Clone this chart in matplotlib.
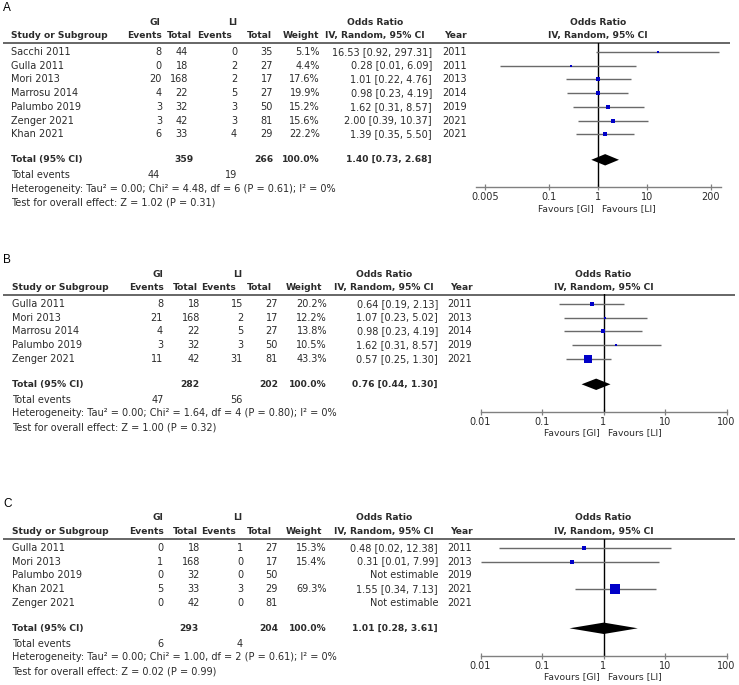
import matplotlib
matplotlib.use('Agg')
import matplotlib.pyplot as plt
import numpy as np

W, H = 739, 685
TXT = '#2b2b2b'

# ---------------- Panel A data ----------------
a_study = ['Sacchi 2011', 'Gulla 2011', 'Mori 2013', 'Marrosu 2014', 'Palumbo 2019', 'Zenger 2021', 'Khan 2021']
a_gi_events = [8, 0, 20, 4, 3, 3, 6]
a_gi_total = [44, 18, 168, 22, 32, 42, 33]
a_li_events = [0, 2, 2, 5, 3, 3, 4]
a_li_total = [35, 27, 17, 27, 50, 81, 29]
a_weight = [5.1, 4.4, 17.6, 19.9, 15.2, 15.6, 22.2]
a_or = [16.53, 0.28, 1.01, 0.98, 1.62, 2.00, 1.39]
a_lo = [0.92, 0.01, 0.22, 0.23, 0.31, 0.39, 0.35]
a_hi = [297.31, 6.09, 4.76, 4.19, 8.57, 10.37, 5.50]
a_year = [2011, 2011, 2013, 2014, 2019, 2021, 2021]
a_totals = [359, 266]
a_events = [44, 19]
a_pooled = [1.40, 0.73, 2.68]
a_het = 'Heterogeneity: Tau² = 0.00; Chi² = 4.48, df = 6 (P = 0.61); I² = 0%'
a_test = 'Test for overall effect: Z = 1.02 (P = 0.31)'
a_ticks = [0.005, 0.1, 1, 10, 200]

# ---------------- Panel B data ----------------
b_study = ['Gulla 2011', 'Mori 2013', 'Marrosu 2014', 'Palumbo 2019', 'Zenger 2021']
b_gi_events = [8, 21, 4, 3, 11]
b_gi_total = [18, 168, 22, 32, 42]
b_li_events = [15, 2, 5, 3, 31]
b_li_total = [27, 17, 27, 50, 81]
b_weight = [20.2, 12.2, 13.8, 10.5, 43.3]
b_or = [0.64, 1.07, 0.98, 1.62, 0.57]
b_lo = [0.19, 0.23, 0.23, 0.31, 0.25]
b_hi = [2.13, 5.02, 4.19, 8.57, 1.30]
b_year = [2011, 2013, 2014, 2019, 2021]
b_totals = [282, 202]
b_events = [47, 56]
b_pooled = [0.76, 0.44, 1.30]
b_het = 'Heterogeneity: Tau² = 0.00; Chi² = 1.64, df = 4 (P = 0.80); I² = 0%'
b_test = 'Test for overall effect: Z = 1.00 (P = 0.32)'
b_ticks = [0.01, 0.1, 1, 10, 100]

# ---------------- Panel C data ----------------
c_study = ['Gulla 2011', 'Mori 2013', 'Palumbo 2019', 'Khan 2021', 'Zenger 2021']
c_gi_events = [0, 1, 0, 5, 0]
c_gi_total = [18, 168, 32, 33, 42]
c_li_events = [1, 0, 0, 3, 0]
c_li_total = [27, 17, 50, 29, 81]
c_weight = [15.3, 15.4, np.nan, 69.3, np.nan]
c_or = [0.48, 0.31, np.nan, 1.55, np.nan]
c_lo = [0.02, 0.01, np.nan, 0.34, np.nan]
c_hi = [12.38, 7.99, np.nan, 7.13, np.nan]
c_year = [2011, 2013, 2019, 2021, 2021]
c_totals = [293, 204]
c_events = [6, 4]
c_pooled = [1.01, 0.28, 3.61]
c_het = 'Heterogeneity: Tau² = 0.00; Chi² = 1.00, df = 2 (P = 0.61); I² = 0%'
c_test = 'Test for overall effect: Z = 0.02 (P = 0.99)'
c_ticks = [0.01, 0.1, 1, 10, 100]

# column layout (pixels)
lay_a = dict(top=22, study=11, gi_lab=155, li_lab=233,
             h_center=[144.5, 179, 215, 259.5, 300.5], v_right=[162, 188, 237, 273, 320],
             tot_right=[194, 273, 320], ev_right=[160, 237],
             or_head=375, or_right=432, year_head=444, year=442, rule_end=730,
             cx=598, ppd=49, half=2.5)
lay_bc = dict(study=12, gi_lab=158, li_lab=238,
              h_center=[147, 185.5, 219, 259.5, 304], v_right=[163, 200, 243, 278, 327],
              tot_right=[199, 278, 327], ev_right=[164, 243],
              or_head=384, or_right=438, year_head=450, year=447, rule_end=735,
              cx=603.5, ppd=61.5, half=2.0)
lay_b = dict(lay_bc, top=274)
lay_c = dict(lay_bc, top=518)

FS = 7.0
FSB = 6.6


def draw_panel(fig, bg, label, lay, study, gi_ev, gi_tot, li_ev, li_tot, weight,
               orr, lo, hi, year, totals, events, pooled, het, test, ticks):
    top = lay['top']
    hdr2 = top + 13.7
    rule = top + 20.5
    step = 13.75
    rows = [top + 29.8 + i * step for i in range(len(study))]
    tot_y = rows[-1] + 25.5
    ev_y = tot_y + 15.3
    het_y = ev_y + 13.8
    test_y = het_y + 13.7
    axis_y = tot_y + 27.5

    t = dict(color=TXT, va='center', fontsize=FS)
    tb = dict(color=TXT, va='center', fontsize=FSB, fontweight='bold')

    bg.text(3, top - 14, label, fontsize=8.5, family='Liberation Sans', color='black', va='center')

    # headers
    bg.text(lay['gi_lab'], top, 'GI', ha='center', **tb)
    bg.text(lay['li_lab'], top, 'LI', ha='center', **tb)
    bg.text(lay['or_head'], top, 'Odds Ratio', ha='center', **tb)
    bg.text(lay['cx'], top, 'Odds Ratio', ha='center', **tb)
    bg.text(lay['study'], hdr2, 'Study or Subgroup', ha='left', **tb)
    for x, s in zip(lay['h_center'], ['Events', 'Total', 'Events', 'Total', 'Weight']):
        bg.text(x, hdr2, s, ha='center', **tb)
    bg.text(lay['or_head'], hdr2, 'IV, Random, 95% CI', ha='center', **tb)
    bg.text(lay['year_head'], hdr2, 'Year', ha='left', **tb)
    bg.text(lay['cx'], hdr2, 'IV, Random, 95% CI', ha='center', **tb)
    bg.plot([3, lay['rule_end']], [rule, rule], color='#666666', lw=1.4, solid_capstyle='butt')

    # study rows
    vr = lay['v_right']
    for i, y in enumerate(rows):
        bg.text(lay['study'], y, study[i], ha='left', **t)
        bg.text(vr[0], y, str(gi_ev[i]), ha='right', **t)
        bg.text(vr[1], y, str(gi_tot[i]), ha='right', **t)
        bg.text(vr[2], y, str(li_ev[i]), ha='right', **t)
        bg.text(vr[3], y, str(li_tot[i]), ha='right', **t)
        if np.isnan(orr[i]):
            or_txt = 'Not estimable'
        else:
            bg.text(vr[4], y, f'{weight[i]:.1f}%', ha='right', **t)
            or_txt = f'{orr[i]:.2f} [{lo[i]:.2f}, {hi[i]:.2f}]'
        bg.text(lay['or_right'], y, or_txt, ha='right', **t)
        bg.text(lay['year'], y, str(year[i]), ha='left', **t)

    # totals
    tr = lay['tot_right']
    bg.text(lay['study'], tot_y, 'Total (95% CI)', ha='left', **tb)
    bg.text(tr[0], tot_y, str(totals[0]), ha='right', **tb)
    bg.text(tr[1], tot_y, str(totals[1]), ha='right', **tb)
    bg.text(tr[2], tot_y, '100.0%', ha='right', **tb)
    bg.text(lay['or_right'], tot_y, f'{pooled[0]:.2f} [{pooled[1]:.2f}, {pooled[2]:.2f}]', ha='right', **tb)
    bg.text(lay['study'], ev_y, 'Total events', ha='left', **t)
    bg.text(lay['ev_right'][0], ev_y, str(events[0]), ha='right', **t)
    bg.text(lay['ev_right'][1], ev_y, str(events[1]), ha='right', **t)
    bg.text(lay['study'], het_y, het, ha='left', **t)
    bg.text(lay['study'], test_y, test, ha='left', **t)

    # forest plot axes
    x0 = lay['cx'] - lay['half'] * lay['ppd']
    x1 = lay['cx'] + lay['half'] * lay['ppd']
    ax = fig.add_axes([x0 / W, 1 - axis_y / H, (x1 - x0) / W, (axis_y - rule) / H])
    ax.set_xscale('log')
    ax.set_xlim(10 ** -lay['half'], 10 ** lay['half'])
    ax.set_ylim(axis_y, rule)
    ax.patch.set_alpha(0)
    for s in ['top', 'left', 'right']:
        ax.spines[s].set_visible(False)
    ax.spines['bottom'].set_color('#808080')
    ax.spines['bottom'].set_linewidth(1.0)
    ax.set_yticks([])
    ax.set_xticks(ticks)
    ax.set_xticklabels([f'{v:g}' for v in ticks])
    ax.minorticks_off()
    ax.tick_params(axis='x', direction='inout', length=5, width=0.9, color='#808080',
                   labelsize=7, labelcolor=TXT, pad=1.2)
    ax.axvline(1, color='black', lw=1.0)

    for i, y in enumerate(rows):
        if np.isnan(orr[i]):
            continue
        ax.plot([lo[i], hi[i]], [y, y], color='#6a6a6a', lw=1.0, solid_capstyle='butt')
        side = max(2.0, 0.45 * weight[i] ** 0.75)
        ax.plot([orr[i]], [y], marker='s', color='#0000c8', markersize=side * 0.72,
                markeredgewidth=0, linestyle='none')
    hd = 5.7
    ax.fill([pooled[1], pooled[0], pooled[2], pooled[0]],
            [tot_y, tot_y - hd, tot_y, tot_y + hd], color='black', lw=0)

    bg.text(lay['cx'] - 4, axis_y + 21, 'Favours [GI]', ha='right', va='center', fontsize=6.7, color=TXT)
    bg.text(lay['cx'] + 4, axis_y + 21, 'Favours [LI]', ha='left', va='center', fontsize=6.7, color=TXT)


fig = plt.figure(figsize=(W / 100, H / 100), dpi=100)
bg = fig.add_axes([0, 0, 1, 1])
bg.set_xlim(0, W)
bg.set_ylim(H, 0)
bg.axis('off')

draw_panel(fig, bg, 'A', lay_a, a_study, a_gi_events, a_gi_total, a_li_events, a_li_total, a_weight,
           a_or, a_lo, a_hi, a_year, a_totals, a_events, a_pooled, a_het, a_test, a_ticks)
draw_panel(fig, bg, 'B', lay_b, b_study, b_gi_events, b_gi_total, b_li_events, b_li_total, b_weight,
           b_or, b_lo, b_hi, b_year, b_totals, b_events, b_pooled, b_het, b_test, b_ticks)
draw_panel(fig, bg, 'C', lay_c, c_study, c_gi_events, c_gi_total, c_li_events, c_li_total, c_weight,
           c_or, c_lo, c_hi, c_year, c_totals, c_events, c_pooled, c_het, c_test, c_ticks)

fig.savefig('out.png', dpi=100)
